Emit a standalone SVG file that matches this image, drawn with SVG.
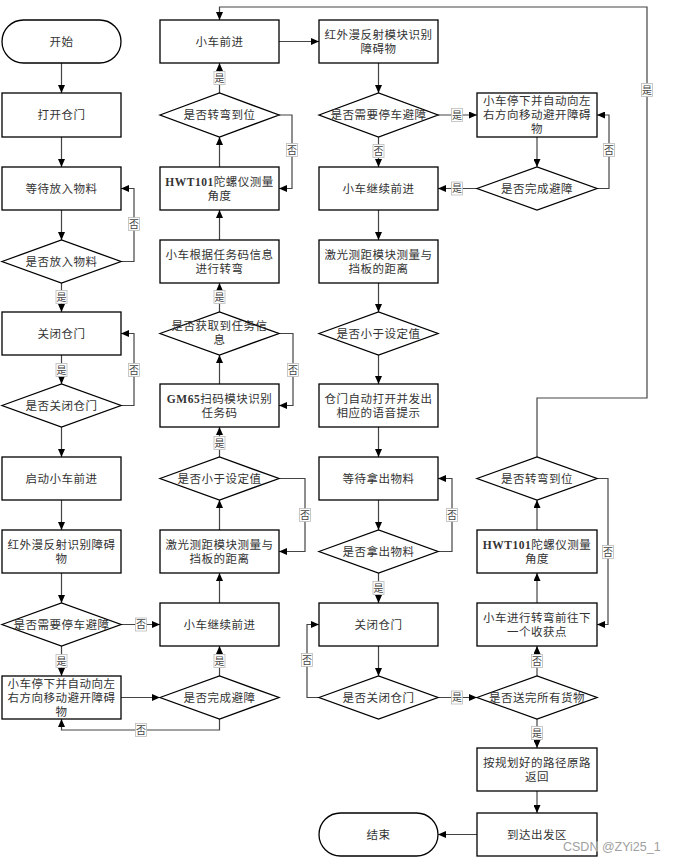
<svg xmlns="http://www.w3.org/2000/svg" width="674" height="861" viewBox="0 0 674 861">
<style>
.box{fill:#fff;stroke:#000;stroke-width:1.3}
.c{fill:none;stroke:#444;stroke-width:1.2}
.t{font-family:"Liberation Serif","Noto Sans CJK SC",serif;font-size:11.5px;letter-spacing:0.5px;fill:#333;text-anchor:middle;dominant-baseline:central}
.b{font-weight:bold}
.lr{fill:#fff;stroke:#bbb;stroke-width:0.8}
.lt{font-family:"Liberation Serif","Noto Sans CJK SC",serif;font-size:10px;fill:#444;text-anchor:middle;dominant-baseline:central}
.wm{font-family:"Liberation Sans",Arial,sans-serif;font-size:12.5px;fill:#a0a0a0;stroke:#fff;stroke-width:0.4;paint-order:stroke}
</style>
<defs>
<marker id="ah" markerUnits="userSpaceOnUse" markerWidth="8" markerHeight="7" refX="8" refY="3.5" orient="auto">
<path d="M0,0 L8,3.5 L0,7 z" fill="#000"/>
</marker>
</defs>
<rect width="674" height="861" fill="#fff"/>

<g id="connectors" marker-end="url(#ah)">
<path class="c" d="M61.5,63 V93"/>
<path class="c" d="M61.5,137 V167"/>
<path class="c" d="M61.5,210 V240"/>
<path class="c" d="M121,261.5 H134 V188.5 H121"/>
<path class="c" d="M61.5,283 V312"/>
<path class="c" d="M61.5,355 V384"/>
<path class="c" d="M121,405.5 H134 V333.5 H121"/>
<path class="c" d="M61.5,427 V457"/>
<path class="c" d="M61.5,500 V530"/>
<path class="c" d="M61.5,573 V603"/>
<path class="c" d="M121,624.5 H160"/>
<path class="c" d="M61.5,646 V676"/>
<path class="c" d="M121,697.5 H160"/>
<path class="c" d="M219.5,719 V730 H61.5 V719"/>
<path class="c" d="M219.5,676 V646"/>
<path class="c" d="M219.5,603 V573"/>
<path class="c" d="M219.5,530 V500"/>
<path class="c" d="M279,478.5 H305 V551.5 H279"/>
<path class="c" d="M219.5,457 V427"/>
<path class="c" d="M219.5,384 V355"/>
<path class="c" d="M279,333.5 H293 V405.5 H279"/>
<path class="c" d="M219.5,312 V283"/>
<path class="c" d="M219.5,240 V210"/>
<path class="c" d="M219.5,167 V137"/>
<path class="c" d="M279,115 H292 V188.5 H279"/>
<path class="c" d="M219.5,93 V63"/>
<path class="c" d="M279,41.5 H319"/>
<path class="c" d="M378.5,63 V93"/>
<path class="c" d="M438,115 H477"/>
<path class="c" d="M378.5,137 V167"/>
<path class="c" d="M537,137 V167"/>
<path class="c" d="M597,188.5 H609 V115 H597"/>
<path class="c" d="M477,188.5 H438"/>
<path class="c" d="M378.5,210 V240"/>
<path class="c" d="M378.5,283 V312"/>
<path class="c" d="M378.5,355 V384"/>
<path class="c" d="M378.5,427 V457"/>
<path class="c" d="M378.5,500 V530"/>
<path class="c" d="M438,551.5 H452 V478.5 H438"/>
<path class="c" d="M378.5,573 V603"/>
<path class="c" d="M378.5,646 V676"/>
<path class="c" d="M319,697.5 H307 V624.5 H319"/>
<path class="c" d="M438,697.5 H477"/>
<path class="c" d="M537,676 V646"/>
<path class="c" d="M537,719 V748"/>
<path class="c" d="M537,791 V813"/>
<path class="c" d="M477,834.5 H438"/>
<path class="c" d="M537,603 V573"/>
<path class="c" d="M537,530 V500"/>
<path class="c" d="M597,478.5 H608 V624.5 H597"/>
<path class="c" d="M537,457 V398 H647 V7 H219.5 V20"/>
</g>

<g id="n_start"><rect class="box" x="2" y="20" width="119" height="43" rx="21.5"/><text class="t" x="61.5" y="41.5">开始</text></g>
<g id="n_open"><rect class="box" x="2" y="93" width="119" height="44"/><text class="t" x="61.5" y="115">打开仓门</text></g>
<g id="n_wait_put"><rect class="box" x="2" y="167" width="119" height="43"/><text class="t" x="61.5" y="188.5">等待放入物料</text></g>
<g id="n_put_q"><polygon class="box" points="2,261.5 61.5,240 121,261.5 61.5,283"/><text class="t" x="61.5" y="261.5">是否放入物料</text></g>
<g id="n_close1"><rect class="box" x="2" y="312" width="119" height="43"/><text class="t" x="61.5" y="333.5">关闭仓门</text></g>
<g id="n_close1_q"><polygon class="box" points="2,405.5 61.5,384 121,405.5 61.5,427"/><text class="t" x="61.5" y="405.5">是否关闭仓门</text></g>
<g id="n_start_car"><rect class="box" x="2" y="457" width="119" height="43"/><text class="t" x="61.5" y="478.5">启动小车前进</text></g>
<g id="n_ir1"><rect class="box" x="2" y="530" width="119" height="43"/><text class="t" x="61.5" y="544.5">红外漫反射识别障碍</text><text class="t" x="61.5" y="558.5">物</text></g>
<g id="n_stop_q1"><polygon class="box" points="2,624.5 61.5,603 121,624.5 61.5,646"/><text class="t" x="61.5" y="624.5">是否需要停车避障</text></g>
<g id="n_avoid1"><rect class="box" x="2" y="676" width="119" height="43"/><text class="t" x="61.5" y="683.5">小车停下并自动向左</text><text class="t" x="61.5" y="697.5">右方向移动避开障碍</text><text class="t" x="61.5" y="711.5">物</text></g>

<g id="n_forward"><rect class="box" x="160" y="20" width="119" height="43"/><text class="t" x="219.5" y="41.5">小车前进</text></g>
<g id="n_turn_q1"><polygon class="box" points="160,115 219.5,93 279,115 219.5,137"/><text class="t" x="219.5" y="115">是否转弯到位</text></g>
<g id="n_hwt1"><rect class="box" x="160" y="167" width="119" height="43"/><text class="t" x="219.5" y="181.5"><tspan class="b">HWT101</tspan>陀螺仪测量</text><text class="t" x="219.5" y="195.5">角度</text></g>
<g id="n_turn_code"><rect class="box" x="160" y="240" width="119" height="43"/><text class="t" x="219.5" y="254.5">小车根据任务码信息</text><text class="t" x="219.5" y="268.5">进行转弯</text></g>
<g id="n_task_q"><polygon class="box" points="160,333.5 219.5,312 279,333.5 219.5,355"/><text class="t" x="219.5" y="326">是否获取到任务信</text><text class="t" x="219.5" y="340">息</text></g>
<g id="n_gm65"><rect class="box" x="160" y="384" width="119" height="43"/><text class="t" x="219.5" y="398.5"><tspan class="b">GM65</tspan>扫码模块识别</text><text class="t" x="219.5" y="412.5">任务码</text></g>
<g id="n_less_q1"><polygon class="box" points="160,478.5 219.5,457 279,478.5 219.5,500"/><text class="t" x="219.5" y="478.5">是否小于设定值</text></g>
<g id="n_laser1"><rect class="box" x="160" y="530" width="119" height="43"/><text class="t" x="219.5" y="544.5">激光测距模块测量与</text><text class="t" x="219.5" y="558.5">挡板的距离</text></g>
<g id="n_cont1"><rect class="box" x="160" y="603" width="119" height="43"/><text class="t" x="219.5" y="624.5">小车继续前进</text></g>
<g id="n_done_q1"><polygon class="box" points="160,697.5 219.5,676 279,697.5 219.5,719"/><text class="t" x="219.5" y="697.5">是否完成避障</text></g>

<g id="n_ir2"><rect class="box" x="319" y="20" width="119" height="43"/><text class="t" x="378.5" y="34.5">红外漫反射模块识别</text><text class="t" x="378.5" y="48.5">障碍物</text></g>
<g id="n_stop_q2"><polygon class="box" points="319,115 378.5,93 438,115 378.5,137"/><text class="t" x="378.5" y="115">是否需要停车避障</text></g>
<g id="n_cont2"><rect class="box" x="319" y="167" width="119" height="43"/><text class="t" x="378.5" y="188.5">小车继续前进</text></g>
<g id="n_laser2"><rect class="box" x="319" y="240" width="119" height="43"/><text class="t" x="378.5" y="254.5">激光测距模块测量与</text><text class="t" x="378.5" y="268.5">挡板的距离</text></g>
<g id="n_less_q2"><polygon class="box" points="319,333.5 378.5,312 438,333.5 378.5,355"/><text class="t" x="378.5" y="333.5">是否小于设定值</text></g>
<g id="n_door_auto"><rect class="box" x="319" y="384" width="119" height="43"/><text class="t" x="378.5" y="398.5">仓门自动打开并发出</text><text class="t" x="378.5" y="412.5">相应的语音提示</text></g>
<g id="n_wait_take"><rect class="box" x="319" y="457" width="119" height="43"/><text class="t" x="378.5" y="478.5">等待拿出物料</text></g>
<g id="n_take_q"><polygon class="box" points="319,551.5 378.5,530 438,551.5 378.5,573"/><text class="t" x="378.5" y="551.5">是否拿出物料</text></g>
<g id="n_close2"><rect class="box" x="319" y="603" width="119" height="43"/><text class="t" x="378.5" y="624.5">关闭仓门</text></g>
<g id="n_close2_q"><polygon class="box" points="319,697.5 378.5,676 438,697.5 378.5,719"/><text class="t" x="378.5" y="697.5">是否关闭仓门</text></g>
<g id="n_end"><rect class="box" x="319" y="813" width="119" height="43" rx="21.5"/><text class="t" x="378.5" y="834.5">结束</text></g>

<g id="n_avoid2"><rect class="box" x="477" y="93" width="120" height="44"/><text class="t" x="537" y="101">小车停下并自动向左</text><text class="t" x="537" y="115">右方向移动避开障碍</text><text class="t" x="537" y="129">物</text></g>
<g id="n_done_q2"><polygon class="box" points="477,188.5 537,167 597,188.5 537,210"/><text class="t" x="537" y="188.5">是否完成避障</text></g>
<g id="n_turn_q2"><polygon class="box" points="477,478.5 537,457 597,478.5 537,500"/><text class="t" x="537" y="478.5">是否转弯到位</text></g>
<g id="n_hwt2"><rect class="box" x="477" y="530" width="120" height="43"/><text class="t" x="537" y="544.5"><tspan class="b">HWT101</tspan>陀螺仪测量</text><text class="t" x="537" y="558.5">角度</text></g>
<g id="n_next"><rect class="box" x="477" y="603" width="120" height="43"/><text class="t" x="537" y="617.5">小车进行转弯前往下</text><text class="t" x="537" y="631.5">一个收获点</text></g>
<g id="n_all_q"><polygon class="box" points="477,697.5 537,676 597,697.5 537,719"/><text class="t" x="537" y="697.5">是否送完所有货物</text></g>
<g id="n_return"><rect class="box" x="477" y="748" width="120" height="43"/><text class="t" x="537" y="762.5">按规划好的路径原路</text><text class="t" x="537" y="776.5">返回</text></g>
<g id="n_arrive"><rect class="box" x="477" y="813" width="120" height="43"/><text class="t" x="537" y="834.5">到达出发区</text></g>

<g id="labels">
<rect class="lr" x="128.5" y="217.5" width="11" height="13"/><text class="lt" x="134" y="224">否</text>
<rect class="lr" x="56" y="290.5" width="11" height="13"/><text class="lt" x="61.5" y="297">是</text>
<rect class="lr" x="56" y="363.5" width="11" height="13"/><text class="lt" x="61.5" y="370">是</text>
<rect class="lr" x="128.5" y="363.5" width="11" height="13"/><text class="lt" x="134" y="370">否</text>
<rect class="lr" x="135.5" y="618" width="11" height="13"/><text class="lt" x="141" y="624.5">否</text>
<rect class="lr" x="56" y="654.5" width="11" height="13"/><text class="lt" x="61.5" y="661">是</text>
<rect class="lr" x="135.5" y="723.5" width="11" height="13"/><text class="lt" x="141" y="730">否</text>
<rect class="lr" x="214" y="654.5" width="11" height="13"/><text class="lt" x="219.5" y="661">是</text>
<rect class="lr" x="299.5" y="508.5" width="11" height="13"/><text class="lt" x="305" y="515">否</text>
<rect class="lr" x="214" y="436.5" width="11" height="13"/><text class="lt" x="219.5" y="443">是</text>
<rect class="lr" x="287.5" y="363.5" width="11" height="13"/><text class="lt" x="293" y="370">否</text>
<rect class="lr" x="214" y="290.5" width="11" height="13"/><text class="lt" x="219.5" y="297">是</text>
<rect class="lr" x="286.5" y="143.5" width="11" height="13"/><text class="lt" x="292" y="150">否</text>
<rect class="lr" x="214" y="71.5" width="11" height="13"/><text class="lt" x="219.5" y="78">是</text>
<rect class="lr" x="451.5" y="108.5" width="11" height="13"/><text class="lt" x="457" y="115">是</text>
<rect class="lr" x="373" y="144.5" width="11" height="13"/><text class="lt" x="378.5" y="151">否</text>
<rect class="lr" x="603.5" y="143.5" width="11" height="13"/><text class="lt" x="609" y="150">否</text>
<rect class="lr" x="451.5" y="182" width="11" height="13"/><text class="lt" x="457" y="188.5">是</text>
<rect class="lr" x="446.5" y="508.5" width="11" height="13"/><text class="lt" x="452" y="515">否</text>
<rect class="lr" x="373" y="581.5" width="11" height="13"/><text class="lt" x="378.5" y="588">是</text>
<rect class="lr" x="301.5" y="653.5" width="11" height="13"/><text class="lt" x="307" y="660">否</text>
<rect class="lr" x="451.5" y="691" width="11" height="13"/><text class="lt" x="457" y="697.5">是</text>
<rect class="lr" x="531.5" y="654.5" width="11" height="13"/><text class="lt" x="537" y="661">否</text>
<rect class="lr" x="531.5" y="726.5" width="11" height="13"/><text class="lt" x="537" y="733">是</text>
<rect class="lr" x="602.5" y="545.5" width="11" height="13"/><text class="lt" x="608" y="552">否</text>
<rect class="lr" x="641.5" y="83.5" width="11" height="13"/><text class="lt" x="647" y="90">是</text>
</g>

<text class="wm" x="563" y="851">CSDN @ZYi25_1</text>
</svg>
